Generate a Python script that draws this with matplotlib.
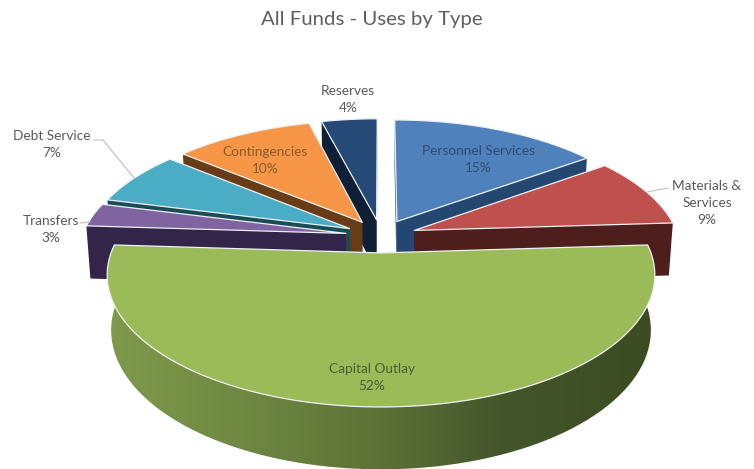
import numpy as np
import matplotlib.pyplot as plt
from matplotlib.colors import LinearSegmentedColormap
from matplotlib.patches import Polygon

plt.rcParams['font.family'] = ['Lato', 'DejaVu Sans']

# Uses by type, clockwise from twelve o'clock
categories = ['Personnel Services', 'Materials &\nServices', 'Capital Outlay',
              'Transfers', 'Debt Service', 'Contingencies', 'Reserves']
shares = [15, 9, 52, 3, 7, 10, 4]

top_colors = ['#4f81bd', '#c0504d', '#9bbb59', '#8064a2', '#4bacc6', '#f79646', '#254a78']
side_colors = ['#234770', '#4e1e1c', '#5c7032', '#33244a', '#174c58', '#693c18', '#0e1f36']

# Perspective of the pie on the canvas (canvas is in pixels, y down)
CX, CY = 381, 236
SCALE_X, SCALE_Y = 264, 122.6
TILT = 0.164
DEPTH, DEPTH_W = 54, 0.014
EXPLODE = 0.135


def project(x, y, z=0.0):
    w = 1 + TILT * y + DEPTH_W * z
    return CX + SCALE_X * x / w, CY + (-SCALE_Y * y + DEPTH * z) / w


def rim(t0, t1, mid, z=0.0):
    t = np.linspace(t0, t1, 90)
    ox, oy = EXPLODE * np.sin(mid), EXPLODE * np.cos(mid)
    return np.column_stack(project(ox + np.sin(t), oy + np.cos(t), z))


def apex(mid, z=0.0):
    return np.array(project(EXPLODE * np.sin(mid), EXPLODE * np.cos(mid), z))


def cut_face(t, mid):
    end = rim(t, t, mid)[0], rim(t, t, mid, 1)[0]
    return [apex(mid), end[0], end[1], apex(mid, 1)]


fig = plt.figure(figsize=(7.54, 4.69), dpi=100)
ax = fig.add_axes([0, 0, 1, 1])

bounds = 2 * np.pi * np.cumsum([0] + shares) / sum(shares)

# Back slices first, the big front slice last
order = [0, 6, 5, 1, 4, 3, 2]
z = 2
for i in order:
    t0, t1 = bounds[i], bounds[i + 1]
    mid = (t0 + t1) / 2

    if i == 2:
        # Outer wall of the front slice, shaded left to right
        wall = np.vstack([rim(t0, t1, mid), rim(t0, t1, mid, 1)[::-1]])
        shade = LinearSegmentedColormap.from_list(
            'wall', [(0, '#7f9a4c'), (0.25, '#6f8842'), (0.5, '#5c7136'),
                     (0.72, '#43552a'), (1, '#3c4b22')])
        img = ax.imshow(np.linspace(0, 1, 256)[None, :], cmap=shade, aspect='auto',
                        extent=(105, 660, 469, 240), zorder=z)
        clip = Polygon(wall, closed=True, transform=ax.transData, fill=False, edgecolor='none')
        ax.add_patch(clip)
        img.set_clip_path(clip)
    else:
        # Cut faces seen from the front
        for t in (t0, t1):
            ax.add_patch(Polygon(cut_face(t, mid), closed=True, facecolor=side_colors[i],
                                 edgecolor='none', zorder=z))
    z += 1

    outline = np.vstack([[apex(mid)], rim(t0, t1, mid)])
    ax.add_patch(Polygon(outline, closed=True, facecolor=top_colors[i], edgecolor='#eef1f3',
                         linewidth=0.9, joinstyle='round', zorder=z))
    z += 1

ax.set_xlim(0, 754)
ax.set_ylim(469, 0)
ax.axis('off')

ax.text(372, 19, 'All Funds - Uses by Type', ha='center', va='center',
        fontsize=14.7, color='#5f5f5f', zorder=50)

# Label centres and text colours, same order as categories
label_pos = [(478, 159.5), (707, 203), (372, 377.5), (51, 229.5), (52, 144.5), (265, 160.5), (348, 99.5)]
label_colors = ['#2f4d72', '#595959', '#4a5f33', '#595959', '#595959', '#8a5a2e', '#595959']
for name, share, pos, col in zip(categories, shares, label_pos, label_colors):
    ax.text(pos[0], pos[1], f'{name}\n{share}%', ha='center', va='center', fontsize=9.8,
            color=col, linespacing=1.45, zorder=50)

# Leader lines for the labels outside the pie
for xs, ys in [((94, 103, 134), (140, 140, 178)),
               ((647, 668), (192, 188)),
               ((80, 90), (223, 222))]:
    ax.plot(xs, ys, color='#bdbdbd', linewidth=0.8, zorder=49)

fig.savefig('out.png', dpi=100, facecolor='white')
